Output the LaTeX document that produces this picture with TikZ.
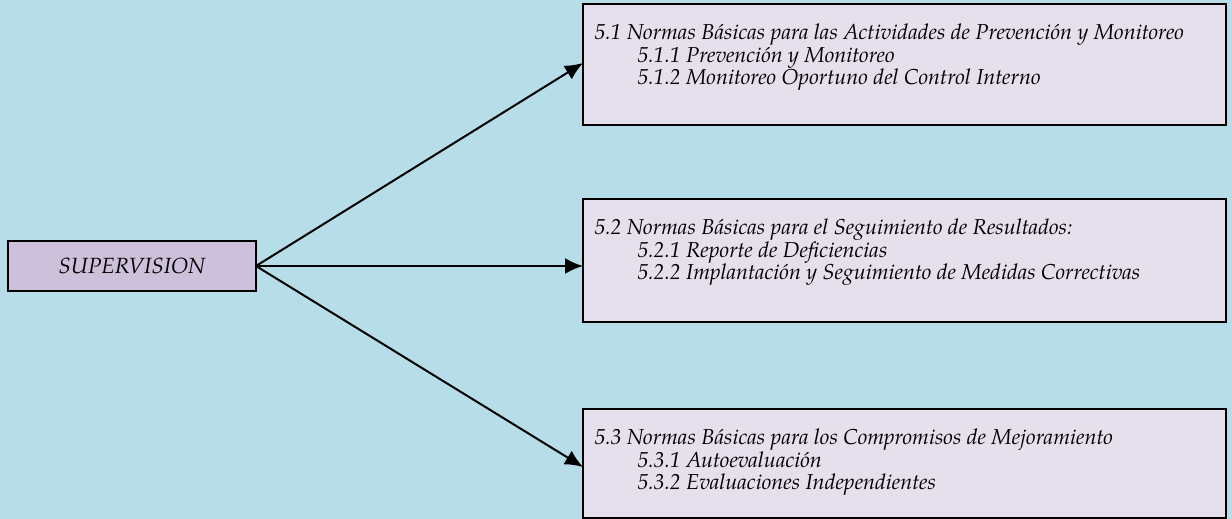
\documentclass[tikz,border=0pt]{standalone}
\usepackage{fontspec}
\setmainfont{texgyrepagella}[Extension=.otf,UprightFont=*-regular,ItalicFont=*-italic,BoldFont=*-bold,BoldItalicFont=*-bolditalic]
\usepackage{tikz}
\usetikzlibrary{arrows.meta,positioning}
\definecolor{fondo}{HTML}{B7DEE8}
\definecolor{lila}{HTML}{E5E0EC}
\definecolor{lilaosc}{HTML}{CCC0DA}
\newcommand\inciso[1]{\hspace*{21.5pt}#1}
\newcommand\norma[4]{\parbox[c][#4][t]{310pt}{#1\\ \inciso{#2}\\ \inciso{#3}}}
\tikzset{
  caja/.style={draw, line width=1pt, fill=lila, rectangle, outer sep=0pt,
    inner xsep=3.5pt, inner ysep=10pt, anchor=north west,
    minimum width=321.5pt, align=left},
  flecha/.style={line width=1pt, -{Latex[length=9pt,width=8pt]}}
}
\begin{document}
\begin{tikzpicture}[x=0.5pt, y=-0.5pt, font=\fontsize{10.8}{11.1}\selectfont\itshape]
\fill[fondo] (0,0) rectangle (1232,519);
\useasboundingbox (0,0) rectangle (1232,519);
\node[draw, line width=1pt, fill=lilaosc, outer sep=0pt, anchor=north west,
  minimum width=124pt, minimum height=25pt] (sup) at (8,241)
  {\fontsize{11}{12}\selectfont SUPERVISION};
\node[caja] (n1) at (583,4)
  {\norma{5.1 Normas B\'asicas para las Actividades de Prevenci\'on y Monitoreo}
    {5.1.1 Prevenci\'on y Monitoreo}
    {5.1.2 Monitoreo Oportuno del Control Interno}{40.5pt}};
\node[caja] (n2) at (583,199)
  {\norma{5.2 Normas B\'asicas para el Seguimiento de Resultados:}
    {5.2.1 Reporte de Deficiencias}
    {5.2.2 Implantaci\'on y Seguimiento de Medidas Correctivas}{41.5pt}};
\node[caja] (n3) at (583,409)
  {\norma{5.3 Normas B\'asicas para los Compromisos de Mejoramiento}
    {5.3.1 Autoevaluaci\'on}
    {5.3.2 Evaluaciones Independientes}{34.5pt}};
\draw[flecha] (sup.east) -- ([yshift=0.75pt]n1.west);
\draw[flecha] (sup.east) -- (sup.east -| n2.west);
\draw[flecha] (sup.east) -- ([yshift=-1.75pt]n3.west);
\end{tikzpicture}
\end{document}
